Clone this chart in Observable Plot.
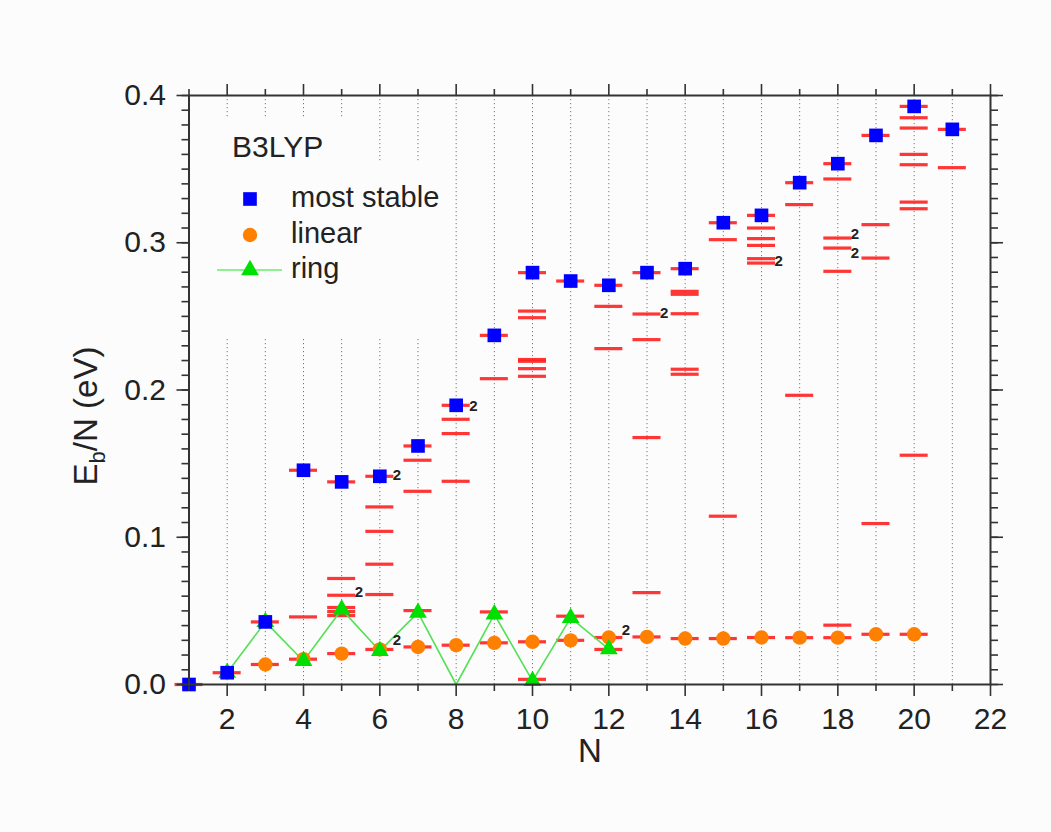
<!DOCTYPE html>
<html>
<head>
<meta charset="utf-8">
<script src="https://cdn.jsdelivr.net/npm/d3@7"></script>
<script src="https://cdn.jsdelivr.net/npm/@observablehq/plot@0.6"></script>
<style>
  html, body { margin: 0; padding: 0; background: #fcfcfc; }
  #chart { width: 1051px; height: 832px; }
</style>
</head>
<body>
<div id="chart"></div>
<script>
// ---- data ----
const clusterN = [1,2,3,4,5,6,7,8,9,10,11,12,13,14,15,16,17,18,19,20,21];
const mostStable = [0.000,0.008,0.0425,0.1455,0.1376,0.1414,0.1620,0.1896,0.2371,0.2797,0.2740,0.2711,0.2797,0.2824,0.3136,0.3186,0.3408,0.3537,0.3729,0.3926,0.3770];

const linearN = [3,4,5,6,7,8,9,10,11,12,13,14,15,16,17,18,19,20];
const linearE = [0.0136,0.0172,0.0210,0.0238,0.0255,0.0267,0.0283,0.0290,0.0300,0.0319,0.0323,0.0312,0.0312,0.0319,0.0318,0.0318,0.0341,0.0341];

const ringN = [2,3,4,5,6,7,8,9,10,11,12];
const ringE = [0.008,0.0425,0.0160,0.0510,0.0228,0.0488,0.000,0.0477,0.0024,0.0452,0.0240];

// all computed isomers (red levels), one list per cluster size N = 1..21
const isomers = [
  [0.000],
  [0.008],
  [0.0425,0.0136],
  [0.1455,0.0459,0.0172],
  [0.1376,0.0720,0.0606,0.0523,0.0495,0.0468,0.0210],
  [0.1414,0.1206,0.1040,0.0817,0.0611,0.0238],
  [0.1620,0.1523,0.1312,0.0502,0.0255],
  [0.1896,0.1801,0.1704,0.1380,0.0267],
  [0.2371,0.2077,0.0493,0.0283],
  [0.2797,0.2536,0.2491,0.2207,0.2195,0.2145,0.2093,0.0035,0.0290],
  [0.2740,0.0464,0.0300],
  [0.2711,0.2568,0.2281,0.0319,0.0238],
  [0.2797,0.2516,0.2342,0.1677,0.0624,0.0323],
  [0.2824,0.2670,0.2650,0.2518,0.2141,0.2107,0.0312],
  [0.3136,0.3021,0.1143,0.0312],
  [0.3186,0.3100,0.3028,0.2982,0.2892,0.2862,0.0319],
  [0.3408,0.3259,0.1964,0.0318],
  [0.3537,0.3433,0.3032,0.2964,0.2806,0.0403,0.0318],
  [0.3729,0.3123,0.2896,0.1093,0.0341],
  [0.3926,0.3849,0.3779,0.3600,0.3530,0.3276,0.3231,0.1557,0.0341],
  [0.3770,0.3510]
];

// degeneracy labels "2"
const degN = [5,6,6,8,12,13,16,18,18];
const degE = [0.0629,0.1420,0.0301,0.1891,0.0369,0.2521,0.2874,0.3058,0.2928];
const degText = ["2","2","2","2","2","2","2","2","2"];

const gridN = [2,3,4,5,6,7,8,9,10,11,12,13,14,15,16,17,18,19,20,21];
const xMajor = [2,4,6,8,10,12,14,16,18,20,22];
const xMinor = [1,3,5,7,9,11,13,15,17,19,21];
const yMajor = [0.0,0.1,0.2,0.3,0.4];
const yMinor = d3.range(0, 41).map(i => i / 100);

const legendLabels = ["most stable", "linear", "ring"];
const methodLabel = "B3LYP";

// ---- tables built from the arrays ----
const stableData = clusterN.map((n, i) => ({N: n, E: mostStable[i]}));
const linearData = linearN.map((n, i) => ({N: n, E: linearE[i]}));
const ringData = ringN.map((n, i) => ({N: n, E: ringE[i]}));
const isoData = isomers.flatMap((list, i) => list.map(e => ({N: clusterN[i], E: e})));
const degData = degN.map((n, i) => ({N: n, E: degE[i], t: degText[i]}));

const FONT = "Liberation Sans, Arial, Helvetica, sans-serif";
const AX = "#333";
const half = 0.367; // half-width of a level dash, in N units

const plot = Plot.plot({
  width: 1051,
  height: 832,
  marginLeft: 188.5,
  marginRight: 61,
  marginTop: 95,
  marginBottom: 148,
  style: {fontFamily: FONT, fontSize: "30px", background: "transparent", color: "#222"},
  x: {domain: [1, 22]},
  y: {domain: [0, 0.4]},
  marks: [
    Plot.ruleX(gridN, {x: d => d, stroke: "#777", strokeWidth: 1, strokeDasharray: "1.2,2.8"}),
    Plot.ruleY(isoData, {y: "E", x1: d => d.N - half, x2: d => d.N + half, stroke: "#ff2020", strokeWidth: 3.2, strokeOpacity: 0.9}),
    Plot.line(ringData, {x: "N", y: "E", stroke: "#55e055", strokeWidth: 1.6}),
    Plot.dot(linearData, {x: "N", y: "E", symbol: "circle", r: 7.2, fill: "#ff7f00", stroke: "none"}),
    Plot.dot(ringData, {x: "N", y: "E", symbol: "triangle", r: 6.6, fill: "#00e000", stroke: "none", filter: d => d.E > 0}),
    Plot.dot(stableData, {x: "N", y: "E", symbol: "square", r: 7.7, fill: "#0000ff", stroke: "none"}),
    Plot.text(degData, {x: "N", y: "E", text: "t", dx: 13, textAnchor: "start", fontSize: 15, fill: "#222", fontWeight: "bold"}),
    // axes
    Plot.axisX({anchor: "bottom", ticks: xMajor, tickSize: 12, tickPadding: 11, tickFormat: d3.format("d"), label: null, stroke: AX, strokeWidth: 1.6}),
    Plot.axisX({anchor: "bottom", ticks: xMinor, tickSize: 7, tickFormat: () => "", label: null, stroke: AX, strokeWidth: 1.6}),
    Plot.axisX({anchor: "top", ticks: xMajor, tickSize: 12, tickFormat: () => "", label: null, stroke: AX, strokeWidth: 1.6}),
    Plot.axisX({anchor: "top", ticks: xMinor, tickSize: 7, tickFormat: () => "", label: null, stroke: AX, strokeWidth: 1.6}),
    Plot.axisY({anchor: "left", ticks: yMajor, tickSize: 12, tickPadding: 11, tickFormat: d => d.toFixed(1), label: null, stroke: AX, strokeWidth: 1.6}),
    Plot.axisY({anchor: "left", ticks: yMinor, tickSize: 7, tickFormat: () => "", label: null, stroke: AX, strokeWidth: 1.6}),
    Plot.axisY({anchor: "right", ticks: yMajor, tickSize: 12, tickFormat: () => "", label: null, stroke: AX, strokeWidth: 1.6}),
    Plot.axisY({anchor: "right", ticks: yMinor, tickSize: 7, tickFormat: () => "", label: null, stroke: AX, strokeWidth: 1.6}),
    Plot.frame({stroke: AX, strokeWidth: 2})
  ]
});

document.getElementById("chart").appendChild(plot);

// ---- legend, method label and axis titles (added to the SVG) ----
const svg = d3.select(plot);
const BG = "#fcfcfc";
const leg = svg.append("g").attr("font-family", FONT).attr("text-anchor", "start");
leg.append("rect").attr("x", 205).attr("y", 118).attr("width", 156).attr("height", 221).attr("fill", BG);
leg.append("rect").attr("x", 360).attr("y", 163).attr("width", 82).attr("height", 176).attr("fill", BG);
leg.append("text").attr("x", 232).attr("y", 157).attr("font-size", 30).attr("text-anchor", "start").attr("fill", "#222").text(methodLabel);

const sym = (type, r) => d3.symbol(type, Math.PI * r * r)();
const rowY = [207, 243, 278];
leg.append("path").attr("d", sym(d3.symbolSquare, 7.7)).attr("transform", `translate(250,${rowY[0] - 8})`).attr("fill", "#0000ff");
leg.append("path").attr("d", sym(d3.symbolCircle, 7.2)).attr("transform", `translate(250,${rowY[1] - 8})`).attr("fill", "#ff7f00");
leg.append("line").attr("x1", 217).attr("x2", 282).attr("y1", rowY[2] - 8).attr("y2", rowY[2] - 8).attr("stroke", "#8ef08e").attr("stroke-width", 2);
leg.append("path").attr("d", sym(d3.symbolTriangle, 6.6)).attr("transform", `translate(250,${rowY[2] - 8})`).attr("fill", "#00e000");
legendLabels.forEach((t, i) => {
  leg.append("text").attr("x", 291).attr("y", rowY[i]).attr("font-size", 29).attr("text-anchor", "start").attr("fill", "#222").text(t);
});

// axis titles
svg.append("text").attr("x", 590).attr("y", 762).attr("text-anchor", "middle")
  .attr("font-family", FONT).attr("font-size", 33).attr("fill", "#222").text("N");
const yt = svg.append("text").attr("transform", "translate(97,416) rotate(-90)").attr("text-anchor", "middle")
  .attr("font-family", FONT).attr("font-size", 33).attr("fill", "#222");
yt.append("tspan").text("E");
yt.append("tspan").attr("font-size", 22).attr("dy", 8).text("b");
yt.append("tspan").attr("dy", -8).text("/N (eV)");
</script>
</body>
</html>
